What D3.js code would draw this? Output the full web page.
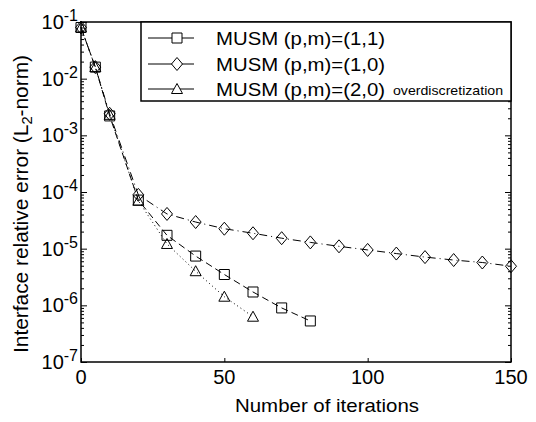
<!DOCTYPE html>
<html>
<head>
<meta charset="utf-8">
<script src="https://cdnjs.cloudflare.com/ajax/libs/d3/7.8.5/d3.min.js"></script>
<style>
  body { margin: 0; background: #fff; }
  svg { display: block; font-family: "Liberation Sans", Arial, Helvetica, sans-serif; }
</style>
</head>
<body>
<script>
// iterations at which each method was sampled
const itersDiamond = [0, 5, 10, 20, 30, 40, 50, 60, 70, 80, 90, 100, 110, 120, 130, 140, 150];
const itersSquare = [0, 5, 10, 20, 30, 40, 50, 60, 70, 80];
const itersTriangle = [0, 5, 10, 20, 30, 40, 50, 60];

// interface relative error
const errDiamond = [8.0e-2, 1.6e-2, 2.4e-3, 8.9e-5, 4.1e-5, 2.95e-5, 2.25e-5, 1.87e-5, 1.53e-5,
  1.29e-5, 1.10e-5, 9.5e-6, 8.2e-6, 7.1e-6, 6.3e-6, 5.7e-6, 4.9e-6];
const errSquare = [8.0e-2, 1.6e-2, 2.2e-3, 7.2e-5, 1.72e-5, 7.4e-6, 3.5e-6, 1.72e-6, 9.0e-7, 5.3e-7];
const errTriangle = [8.0e-2, 1.6e-2, 2.3e-3, 7.0e-5, 1.21e-5, 4.0e-6, 1.42e-6, 6.3e-7];

const legendLabels = ['MUSM (p,m)=(1,1)', 'MUSM (p,m)=(1,0)', 'MUSM (p,m)=(2,0)'];
const xTicks = [0, 50, 100, 150];
const yDecades = [-7, -6, -5, -4, -3, -2, -1];

const W = 536, H = 422;
const padL = 81, padR = 511, padT = 22, padB = 362;

const svg = d3.select('body').append('svg')
  .attr('width', W)
  .attr('height', H);

const x = d3.scaleLinear().domain([0, 150]).range([padL, padR]);
const y = d3.scaleLog().domain([1e-7, 1e-1]).range([padB, padT]);

// minor / major ticks on left and right sides (pointing inward)
const minorVals = [];
yDecades.slice(0, -1).forEach(e => {
  for (let k = 2; k <= 9; k++) minorVals.push(k * Math.pow(10, e));
});
const majorVals = yDecades.map(e => Math.pow(10, e));

svg.append('g').attr('transform', `translate(${padL},0)`)
  .call(d3.axisLeft(y).tickValues(majorVals).tickSize(-6).tickFormat(''));
svg.append('g').attr('transform', `translate(${padL},0)`)
  .call(d3.axisLeft(y).tickValues(minorVals).tickSize(-3).tickFormat(''));
svg.append('g').attr('transform', `translate(${padR},0)`)
  .call(d3.axisRight(y).tickValues(majorVals).tickSize(-6).tickFormat(''));
svg.append('g').attr('transform', `translate(${padR},0)`)
  .call(d3.axisRight(y).tickValues(minorVals).tickSize(-3).tickFormat(''));

svg.append('g').attr('transform', `translate(0,${padB})`)
  .call(d3.axisBottom(x).tickValues(xTicks).tickSize(-4).tickFormat(''));

svg.selectAll('.domain').remove();
svg.selectAll('.tick line').attr('stroke', '#000').attr('stroke-width', 1);

// frame
svg.append('rect')
  .attr('x', padL).attr('y', padT)
  .attr('width', padR - padL).attr('height', padB - padT)
  .attr('fill', 'none').attr('stroke', '#000').attr('stroke-width', 1.5);

// x tick labels
svg.selectAll('.xlab').data(xTicks).enter().append('text')
  .attr('x', d => x(d)).attr('y', 384)
  .attr('text-anchor', 'middle')
  .attr('font-size', 20)
  .text(d => d);

// y tick labels 10^e
const yl = svg.selectAll('.ylab').data(yDecades).enter().append('text')
  .attr('x', 78).attr('y', d => y(Math.pow(10, d)) + 7)
  .attr('text-anchor', 'end')
  .attr('font-size', 20);
yl.append('tspan').text('10');
yl.append('tspan').attr('dy', -8).attr('font-size', 16).text(d => d);

// axis titles
svg.append('text')
  .attr('x', 327).attr('y', 412)
  .attr('text-anchor', 'middle')
  .attr('font-size', 19)
  .attr('textLength', 184).attr('lengthAdjust', 'spacingAndGlyphs')
  .text('Number of iterations');

const yt = svg.append('text')
  .attr('transform', 'translate(28,204) rotate(-90)')
  .attr('text-anchor', 'middle')
  .attr('font-size', 20)
  .attr('textLength', 298).attr('lengthAdjust', 'spacingAndGlyphs');
yt.append('tspan').text('Interface relative error (L');
yt.append('tspan').attr('font-size', 14).attr('dy', 4).text('2');
yt.append('tspan').attr('dy', -4).text('-norm)');

// series
const series = [
  { xs: itersSquare, ys: errSquare, dash: '7,4', marker: 'square' },
  { xs: itersDiamond, ys: errDiamond, dash: '8,4,1,4', marker: 'diamond' },
  { xs: itersTriangle, ys: errTriangle, dash: '1,3', marker: 'triangle' }
];

const line = d3.line().x(d => x(d[0])).y(d => y(d[1]));

series.forEach(s => {
  const pts = s.xs.map((v, i) => [v, s.ys[i]]);
  svg.append('path')
    .attr('d', line(pts))
    .attr('fill', 'none')
    .attr('stroke', '#000')
    .attr('stroke-width', 1)
    .attr('stroke-dasharray', s.dash);
});

function markerPath(type, cx, cy) {
  if (type === 'square') return `M${cx - 5},${cy - 5}h10v10h-10z`;
  if (type === 'diamond') return `M${cx},${cy - 6.5}L${cx + 5.5},${cy}L${cx},${cy + 6.5}L${cx - 5.5},${cy}z`;
  return `M${cx},${cy - 5.5}L${cx + 5.5},${cy + 4.5}L${cx - 5.5},${cy + 4.5}z`;
}

series.forEach(s => {
  svg.selectAll(null).data(s.xs.map((v, i) => [v, s.ys[i]])).enter().append('path')
    .attr('d', d => markerPath(s.marker, x(d[0]), y(d[1])))
    .attr('fill', 'none')
    .attr('stroke', '#000')
    .attr('stroke-width', 1);
});

// legend
const lg = svg.append('g');
lg.append('rect')
  .attr('x', 141).attr('y', padT)
  .attr('width', padR - 141).attr('height', 79)
  .attr('fill', '#fff').attr('stroke', '#000').attr('stroke-width', 1.5);

const rowY = [38, 64, 89];
series.forEach((s, i) => {
  const cy = rowY[i];
  lg.append('line').attr('x1', 148).attr('x2', 194).attr('y1', cy).attr('y2', cy)
    .attr('stroke', '#000').attr('stroke-width', 1);
  lg.append('path').attr('d', markerPath(s.marker, 177, cy))
    .attr('fill', '#fff').attr('stroke', '#000').attr('stroke-width', 1);
  lg.append('text')
    .attr('x', 216).attr('y', cy + 7)
    .attr('font-size', 19)
    .attr('textLength', 169).attr('lengthAdjust', 'spacingAndGlyphs')
    .text(legendLabels[i]);
});
lg.append('text')
  .attr('x', 393).attr('y', 95)
  .attr('font-size', 13)
  .attr('textLength', 110).attr('lengthAdjust', 'spacingAndGlyphs')
  .text('overdiscretization');
</script>
</body>
</html>
